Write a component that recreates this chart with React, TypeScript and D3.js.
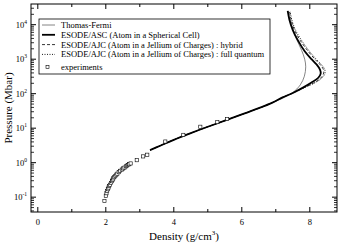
import React from 'react';
import * as d3 from 'd3';

// density (g/cm3), pressure (Mbar)
const experiments: [number, number][] = [
  [1.96, 0.078], [2.0, 0.11], [2.02, 0.13], [2.04, 0.15], [2.06, 0.17],
  [2.08, 0.19], [2.1, 0.21], [2.12, 0.23], [2.15, 0.26], [2.18, 0.29],
  [2.2, 0.32], [2.22, 0.35], [2.25, 0.38], [2.28, 0.41], [2.31, 0.45],
  [2.34, 0.48], [2.38, 0.53], [2.42, 0.58], [2.47, 0.63], [2.51, 0.68],
  [2.55, 0.72], [2.59, 0.78], [2.62, 0.82], [2.65, 0.86], [2.69, 0.9],
  [2.73, 0.95], [2.91, 1.18], [3.1, 1.52], [3.22, 1.7], [3.75, 4.1],
  [4.28, 6.4], [4.78, 11], [5.28, 15], [5.57, 18.5],
];

const commonPart: [number, number][] = [
  [3.3, 2.3], [3.6, 3.1], [4.0, 4.6], [4.5, 7.2], [5.0, 11],
  [5.5, 16.5], [6.0, 25], [6.5, 38], [6.9, 55],
];

const thomasFermi: [number, number][] = [
  [7.2, 74], [7.5, 108], [7.72, 180], [7.84, 320], [7.88, 600],
  [7.85, 1000], [7.76, 1800], [7.6, 4000], [7.46, 10000], [7.38, 20000], [7.36, 25000],
];

const asc: [number, number][] = [
  [7.2, 78], [7.5, 105], [7.8, 150], [8.05, 210], [8.25, 290], [8.32, 380],
  [8.3, 500], [8.2, 700], [8.05, 1000], [7.85, 1700], [7.65, 3500],
  [7.5, 7000], [7.4, 14000], [7.35, 25000],
];

const hybrid: [number, number][] = [
  [7.2, 78], [7.5, 104], [7.8, 145], [8.1, 200], [8.3, 270], [8.4, 370],
  [8.4, 500], [8.3, 700], [8.15, 1000], [7.95, 1700], [7.72, 3500],
  [7.55, 7000], [7.45, 14000], [7.4, 25000],
];

const fullQuantum: [number, number][] = [
  [7.2, 78], [7.5, 104], [7.8, 144], [8.12, 200], [8.33, 270], [8.44, 370],
  [8.44, 500], [8.34, 700], [8.19, 1000], [7.99, 1700], [7.76, 3500],
  [7.58, 7000], [7.47, 14000], [7.42, 25000],
];

const xTicks = [0, 2, 4, 6, 8];
const xMinor = [1, 3, 5, 7];
const yDecades = [-1, 0, 1, 2, 3, 4];

const legendItems = [
  { label: 'Thomas-Fermi', kind: 'tf' },
  { label: 'ESODE/ASC (Atom in a Spherical Cell)', kind: 'asc' },
  { label: 'ESODE/AJC (Atom in a Jellium of Charges) : hybrid', kind: 'hyb' },
  { label: 'ESODE/AJC (Atom in a Jellium of Charges) : full quantum', kind: 'fq' },
  { label: 'experiments', kind: 'exp' },
];

const styles: Record<string, { stroke: string; width: number; dash?: string }> = {
  tf: { stroke: '#666', width: 0.8 },
  asc: { stroke: '#000', width: 1.8 },
  hyb: { stroke: '#000', width: 0.8, dash: '3,2' },
  fq: { stroke: '#000', width: 0.9, dash: '1,1.5' },
};

export default function App() {
  const left = 31, right = 337, top = 4, bottom = 212;
  const x = d3.scaleLinear().domain([-0.2, 8.8]).range([left, right]);
  const y = d3.scaleLog().domain([Math.pow(10, -1.43), Math.pow(10, 4.6)]).range([bottom, top]);
  const font = "'Liberation Serif', 'DejaVu Serif', serif";

  const line = d3
    .line<[number, number]>()
    .x((d) => x(d[0]))
    .y((d) => y(d[1]))
    .curve(d3.curveCatmullRom.alpha(0.5));

  const series = [
    { kind: 'tf', pts: [...commonPart, ...thomasFermi] },
    { kind: 'hyb', pts: [...commonPart, ...hybrid] },
    { kind: 'fq', pts: [...commonPart, ...fullQuantum] },
    { kind: 'asc', pts: [...commonPart, ...asc] },
  ];

  const [y0, y1] = y.domain();
  const minorY: number[] = [];
  for (let e = -2; e <= 4; e++) {
    for (let m = 2; m <= 9; m++) {
      const v = m * Math.pow(10, e);
      if (v >= y0 && v <= y1) minorY.push(v);
    }
  }

  const lx = 41, ly0 = 25, dyLeg = 9.8;

  return (
    <svg width={338} height={244} style={{ position: 'absolute', left: 0, top: 0, background: '#fff', fontFamily: font }}>
      <rect x={0} y={0} width={338} height={244} fill="#fff" />
      {series.map((s) => (
        <path
          key={s.kind}
          d={line(s.pts) || ''}
          fill="none"
          stroke={styles[s.kind].stroke}
          strokeWidth={styles[s.kind].width}
          strokeDasharray={styles[s.kind].dash}
        />
      ))}
      {experiments.map((d, i) => (
        <rect
          key={i}
          x={x(d[0]) - 1.6}
          y={y(d[1]) - 1.6}
          width={3.2}
          height={3.2}
          fill="#fff"
          stroke="#000"
          strokeWidth={0.6}
        />
      ))}
      <rect x={left} y={top} width={right - left} height={bottom - top} fill="none" stroke="#000" strokeWidth={1} />
      {xTicks.map((t) => (
        <g key={'xt' + t}>
          <line x1={x(t)} x2={x(t)} y1={bottom} y2={bottom - 5} stroke="#000" />
          <line x1={x(t)} x2={x(t)} y1={top} y2={top + 5} stroke="#000" />
          <text x={x(t)} y={bottom + 13} textAnchor="middle" fontSize={8.5}>
            {t}
          </text>
        </g>
      ))}
      {xMinor.map((t) => (
        <g key={'xm' + t}>
          <line x1={x(t)} x2={x(t)} y1={bottom} y2={bottom - 3} stroke="#000" />
          <line x1={x(t)} x2={x(t)} y1={top} y2={top + 3} stroke="#000" />
        </g>
      ))}
      {yDecades.map((e) => {
        const py = y(Math.pow(10, e));
        return (
          <g key={'yt' + e}>
            <line x1={left} x2={left + 5} y1={py} y2={py} stroke="#000" />
            <line x1={right} x2={right - 5} y1={py} y2={py} stroke="#000" />
            <text x={27} y={py + 3} textAnchor="end" fontSize={8.5}>
              10
              <tspan dy={-4} fontSize={5.5}>
                {e}
              </tspan>
            </text>
          </g>
        );
      })}
      {minorY.map((v, i) => (
        <g key={'ym' + i}>
          <line x1={left} x2={left + 3} y1={y(v)} y2={y(v)} stroke="#000" strokeWidth={0.8} />
          <line x1={right} x2={right - 3} y1={y(v)} y2={y(v)} stroke="#000" strokeWidth={0.8} />
        </g>
      ))}
      <text x={(left + right) / 2} y={240} textAnchor="middle" fontSize={11}>
        Density (g/cm
        <tspan dy={-5} fontSize={7}>3</tspan>
        <tspan dy={5}>)</tspan>
      </text>
      <text transform={`translate(12,${(top + bottom) / 2}) rotate(-90)`} textAnchor="middle" fontSize={11}>
        Pressure (Mbar)
      </text>
      <rect x={39} y={19} width={231} height={55} fill="#fff" stroke="#000" strokeWidth={0.8} />
      {legendItems.map((it, i) => {
        const ly = i < 4 ? ly0 + i * dyLeg : ly0 + 3 * dyLeg + 12.5;
        return (
          <g key={it.kind}>
            {it.kind === 'exp' ? (
              <rect x={lx + 5} y={ly - 1.5} width={3} height={3} fill="#fff" stroke="#000" strokeWidth={0.6} />
            ) : (
              <line
                x1={lx + 1}
                x2={lx + 14}
                y1={ly}
                y2={ly}
                stroke={styles[it.kind].stroke}
                strokeWidth={styles[it.kind].width}
                strokeDasharray={styles[it.kind].dash}
              />
            )}
            <text x={61} y={ly + 3} fontSize={8.5}>
              {it.label}
            </text>
          </g>
        );
      })}
    </svg>
  );
}
